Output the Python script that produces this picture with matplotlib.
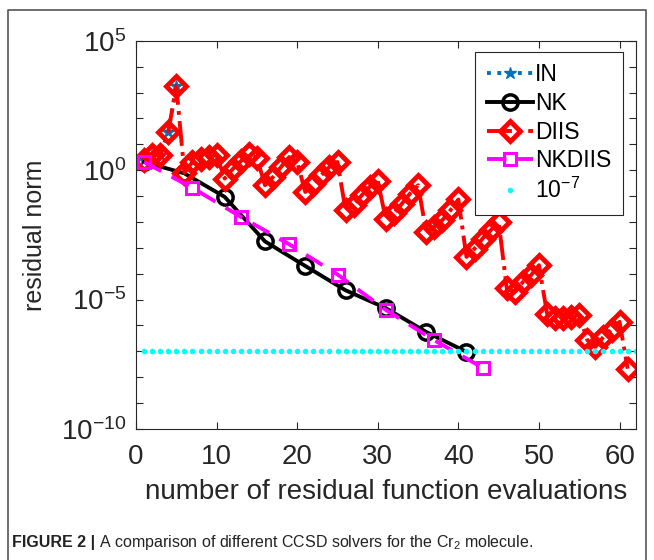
import numpy as np
import matplotlib
matplotlib.use("Agg")
import matplotlib.pyplot as plt
from matplotlib.lines import Line2D

plt.rcParams['font.family'] = ['Liberation Sans', 'DejaVu Sans']
plt.rcParams['mathtext.fontset'] = 'custom'
plt.rcParams['mathtext.rm'] = 'Liberation Sans'
plt.rcParams['mathtext.it'] = 'Liberation Sans:italic'
plt.rcParams['mathtext.bf'] = 'Liberation Sans:bold'

## DATA (log10 of residual norm)
in_x = [1, 2, 3, 4, 5]
in_log = [0.39, 0.58, 0.58, 1.48, 3.25]

nk_x = [1, 6, 11, 16, 21, 26, 31, 36, 41]
nk_log = [0.32, -0.12, -1.03, -2.75, -3.7, -4.64, -5.33, -6.25, -7.02]

diis_x = list(range(1, 62))
diis_log = [0.39, 0.58, 0.58, 1.48, 3.25,
            -0.10, 0.32, 0.45, 0.51, 0.58,
            -0.32, 0.05, 0.35, 0.62, 0.48,
            -0.58, -0.26, 0.13, 0.51, 0.32,
            -0.84, -0.52, -0.19, 0.13, 0.32,
            -1.55, -1.35, -0.97, -0.64, -0.42,
            -1.90, -1.67, -1.29, -0.90, -0.58,
            -2.38, -2.19, -1.93, -1.55, -1.13,
            -3.35, -3.03, -2.64, -2.32, -2.00,
            -4.57, -4.70, -4.32, -4.06, -3.67,
            -5.54, -5.73, -5.73, -5.67, -5.60,
            -6.57, -6.83, -6.44, -6.18, -5.86,
            -7.67]

nkdiis_x = [1, 7, 13, 19, 25, 31, 37, 43]
nkdiis_log = [0.32, -0.68, -1.8, -2.86, -4.03, -5.4, -6.57, -7.63]

tol_x = list(range(1, 63))
tol = 1e-7

xticks = [0, 10, 20, 30, 40, 50, 60]
yticks_major = [1e5, 1e0, 1e-5, 1e-10]
ytick_labels = [r'$\mathregular{10^{5}}$', r'$\mathregular{10^{0}}$',
                r'$\mathregular{10^{-5}}$', r'$\mathregular{10^{-10}}$']

## PLOT
fig = plt.figure(figsize=(6.54, 5.6), dpi=100)
ax = fig.add_axes([0.208, 0.234, 0.764, 0.693])

axcol = '#262626'
ax.plot(in_x, 10 ** np.array(in_log), linestyle=':', marker='*', color='#0072BD',
        lw=2.8, ms=9, label='IN')
ax.plot(nk_x, 10 ** np.array(nk_log), linestyle='-', marker='o', color='black',
        lw=2.8, ms=11, mfc='none', mew=2.5, label='NK')
ax.plot(diis_x, 10 ** np.array(diis_log), linestyle='-.', marker='D', color='red',
        lw=2.8, ms=10, mfc='none', mew=3.5, label='DIIS')
ax.plot(nkdiis_x, 10 ** np.array(nkdiis_log), linestyle='--', marker='s', color='magenta',
        lw=2.8, ms=9, mfc='none', mew=2.2, label='NKDIIS', dashes=(5, 3))
ax.plot(tol_x, [tol] * len(tol_x), linestyle='none', marker='.', color='cyan',
        ms=6, label=r'$\mathregular{10^{-7}}$')

ax.set_yscale('log')
ax.set_xlim(0, 62)
ax.set_ylim(1e-10, 1e5)
ax.set_xticks(xticks)
ax.set_yticks(yticks_major)
ax.set_yticklabels(ytick_labels)
ax.set_yticks([10.0 ** k for k in range(-10, 6)], minor=True)
ax.yaxis.set_minor_formatter(plt.NullFormatter())
ax.tick_params(which='both', direction='in', top=True, right=True, colors=axcol,
               labelsize=20, width=0.8)
ax.tick_params(which='major', length=5, pad=7)
ax.tick_params(axis='x', which='major', pad=11)
ax.tick_params(which='minor', length=5)
for s in ax.spines.values():
    s.set_color(axcol)
    s.set_linewidth(0.8)

ax.set_xlabel('number of residual function evaluations', fontsize=20, color=axcol, labelpad=6)
ax.set_ylabel('residual norm', fontsize=18, color=axcol, labelpad=10)

leg = ax.legend(loc='upper right', bbox_to_anchor=(0.974, 0.972), borderaxespad=0,
                fontsize=16.5, handlelength=2.0, handletextpad=0.1, borderpad=0.5,
                labelspacing=0.25, fancybox=False, framealpha=1, edgecolor=axcol)
leg.get_frame().set_linewidth(0.8)

# caption and frame
cap_size = 11.5
t1 = fig.text(0.019, 0.032, 'FIGURE 2 |', fontsize=cap_size, fontweight='bold',
              color='#222222', va='center')
fig.canvas.draw()
bb = t1.get_window_extent(renderer=fig.canvas.get_renderer())
x2 = bb.x1 / fig.bbox.width + 0.006
fig.text(x2, 0.032, 'A comparison of different CCSD solvers for the Cr$_2$ molecule.',
         fontsize=cap_size, color='#222222', va='center')
fig.add_artist(Line2D([0.012, 0.012, 0.988, 0.988], [0.0, 0.982, 0.982, 0.0],
                      transform=fig.transFigure, color='#555555', lw=1.2))

fig.savefig('out.png', dpi=100)
